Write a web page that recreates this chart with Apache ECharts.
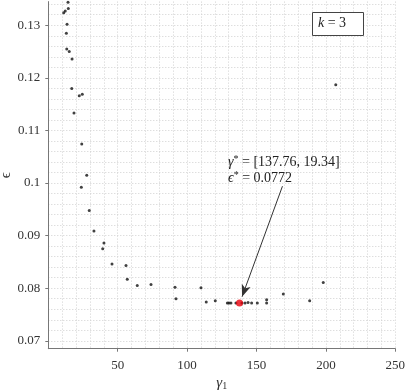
<!DOCTYPE html>
<html>
<head>
<meta charset="utf-8">
<script src="https://cdn.jsdelivr.net/npm/echarts@6/dist/echarts.min.js"></script>
<style>html,body{margin:0;padding:0;background:#fff}#c{width:407px;height:391px}</style>
</head>
<body>
<div id="c"></div>
<script>
// gamma_1 values of the sampled points
const gammaX = [14.2, 14.4, 12.2, 11.1, 13.5, 13.0, 13.3, 15.1, 17.1, 16.9, 22.3, 24.5, 18.5, 24.1, 27.7, 23.8, 29.5, 32.9, 40.1, 39.2, 45.9, 56.0, 56.9, 64.1, 74.0, 91.3, 92.0, 110.0, 113.8, 120.3, 129.0, 130.2, 131.6, 135.2, 139.5, 141.7, 143.9, 146.5, 150.6, 157.3, 157.3, 169.3, 188.3, 198.1, 207.1];
// epsilon values of the sampled points
const epsY = [0.1344, 0.1332, 0.1327, 0.1324, 0.1302, 0.1285, 0.1255, 0.1250, 0.1236, 0.1180, 0.1166, 0.1169, 0.1133, 0.1074, 0.1015, 0.0992, 0.0948, 0.0909, 0.0886, 0.0875, 0.0846, 0.0843, 0.0817, 0.0805, 0.0807, 0.0802, 0.0780, 0.0801, 0.0774, 0.0776, 0.0772, 0.0772, 0.0772, 0.0772, 0.0772, 0.0772, 0.0773, 0.0772, 0.0772, 0.0778, 0.0772, 0.0789, 0.0776, 0.0811, 0.1187];
// optimum
const bestX = [137.76];
const bestY = [0.0772];
// arrow start (annotation) and end (near optimum)
const arrowFrom = [168.7, 0.0994];
const arrowTo = [139.6, 0.0784];
// tick labels
const xTicks = [50, 100, 150, 200, 250];
const yTicks = [0.07, 0.08, 0.09, 0.1, 0.11, 0.12, 0.13];

const serif = '"Liberation Serif", "DejaVu Serif", serif';
const gridStyle = { color: '#d0d0d0', type: [1, 2], width: 1 };

const chart = echarts.init(document.getElementById('c'), null, { renderer: 'canvas' });
chart.setOption({
  animation: false,
  backgroundColor: '#fff',
  grid: { left: 48.3, right: 11.7, top: 1.6, bottom: 42.3, containLabel: false, outerBoundsMode: 'none' },
  xAxis: {
    type: 'value', min: 0, max: 250, interval: 50,
    name: '{g|γ}{s|1}', nameLocation: 'middle', nameGap: 25, nameMoveOverlap: false,
    nameTextStyle: {
      rich: {
        g: { fontFamily: serif, fontSize: 15, fontStyle: 'italic', color: '#333' },
        s: { fontFamily: serif, fontSize: 10, color: '#333', padding: [8, 0, 0, 0] }
      }
    },
    axisLine: { lineStyle: { color: '#777', width: 1 } },
    axisTick: { show: true, length: 3, inside: false, lineStyle: { color: '#777' }, customValues: xTicks },
    axisLabel: { customValues: xTicks, margin: 10, fontFamily: serif, fontSize: 13, color: '#333' },
    splitLine: { show: true, lineStyle: gridStyle },
    minorTick: { show: false, splitNumber: 5 },
    minorSplitLine: { show: true, lineStyle: gridStyle }
  },
  yAxis: {
    type: 'value', min: 0.0685, max: 0.1345, splitNumber: 6,
    name: 'ϵ', nameLocation: 'middle', nameGap: 35, nameRotate: 90, nameMoveOverlap: false,
    nameTextStyle: { fontFamily: serif, fontSize: 15, color: '#333' },
    axisLine: { show: true, lineStyle: { color: '#777', width: 1 } },
    axisTick: { show: true, length: 3, inside: false, lineStyle: { color: '#777' }, customValues: yTicks },
    axisLabel: { customValues: yTicks, margin: 8, fontFamily: serif, fontSize: 13, color: '#333',
      formatter: v => String(Math.round(v * 100) / 100) },
    splitLine: { show: true, lineStyle: gridStyle },
    minorTick: { show: false, splitNumber: 5 },
    minorSplitLine: { show: true, lineStyle: gridStyle }
  },
  series: [
    {
      type: 'scatter',
      data: gammaX.map((x, i) => [x, epsY[i]]),
      symbolSize: 3,
      itemStyle: { color: '#111' },
      silent: true,
      markLine: {
        silent: true,
        symbol: ['none', 'arrow'],
        symbolSize: [7, 12],
        label: { show: false },
        lineStyle: { color: '#333', width: 1, type: 'solid' },
        data: [[{ coord: arrowFrom }, { coord: arrowTo }]]
      }
    },
    {
      type: 'scatter',
      data: bestX.map((x, i) => [x, bestY[i]]),
      symbolSize: 7,
      itemStyle: { color: '#e8000b' },
      z: 5,
      silent: true
    }
  ],
  graphic: [
    {
      type: 'text', left: 228, top: 154, z: 100,
      style: {
        text: '{i|γ}{sup|*}{n| = [137.76, 19.34]}',
        rich: {
          i: { fontFamily: serif, fontSize: 14, fontStyle: 'italic', fill: '#222' },
          sup: { fontFamily: serif, fontSize: 10, fill: '#222', padding: [0, 0, 7, 0] },
          n: { fontFamily: serif, fontSize: 14, fill: '#222' }
        }
      }
    },
    {
      type: 'text', left: 228, top: 170, z: 100,
      style: {
        text: '{i|ϵ}{sup|*}{n| = 0.0772}',
        rich: {
          i: { fontFamily: serif, fontSize: 14, fontStyle: 'italic', fill: '#222' },
          sup: { fontFamily: serif, fontSize: 10, fill: '#222', padding: [0, 0, 7, 0] },
          n: { fontFamily: serif, fontSize: 14, fill: '#222' }
        }
      }
    },
    {
      type: 'rect', left: 312, top: 12, z: 100,
      shape: { width: 51, height: 23 },
      style: { fill: '#fff', stroke: '#444', lineWidth: 1 }
    },
    {
      type: 'text', left: 318, top: 16, z: 101,
      style: {
        text: '{i|k}{n| = 3}',
        rich: {
          i: { fontFamily: serif, fontSize: 14, fontStyle: 'italic', fill: '#222' },
          n: { fontFamily: serif, fontSize: 14, fill: '#222' }
        }
      }
    }
  ]
});
</script>
</body>
</html>
